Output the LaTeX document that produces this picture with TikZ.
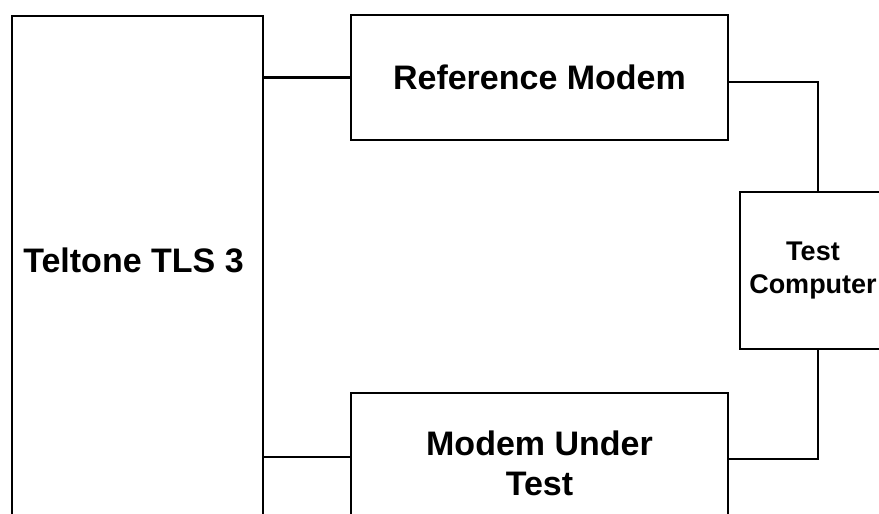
\documentclass[tikz,border=0pt]{standalone}
\usepackage{fontspec}
\setmainfont{Liberation Sans}
\begin{document}
\begin{tikzpicture}[x=1pt,y=-1pt,
  box/.style={draw, line width=2.2pt, rectangle, inner sep=0pt},
  big/.style={font=\bfseries\fontsize{34}{40}\selectfont, align=center},
  small/.style={font=\bfseries\fontsize{27}{33}\selectfont, align=center},
  wire/.style={draw, line width=2.2pt}]
\useasboundingbox[fill=white] (0,0) rectangle (879,514);
\clip (0,0) rectangle (879,514);
\node[box, anchor=north west, minimum width=251pt, minimum height=540pt] (tls) at (11,15) {};
\node[big] (tlstext) at (133.5,260.5) {Teltone TLS 3};
\node[box, big, minimum width=377pt, minimum height=125pt] (ref) at (539.5,77.5) {Reference Modem};
\node[box, big, minimum width=377pt, minimum height=140pt] (mut) at (539.5,463) {Modem Under\\Test};
\node[box, small, minimum width=146pt, minimum height=157pt] (tc) at (813,270.5) {Test\\Computer};
\draw[wire] (ref.west) -- (ref.west -| tls.east);
\draw[wire] ([yshift=6pt]mut.west) -- ([yshift=6pt]mut.west -| tls.east);
\draw[wire] ([yshift=-4.5pt]ref.east) -| ([xshift=5pt]tc.north);
\draw[wire] ([xshift=5pt]tc.south) |- ([yshift=4pt]mut.east);
\end{tikzpicture}
\end{document}
